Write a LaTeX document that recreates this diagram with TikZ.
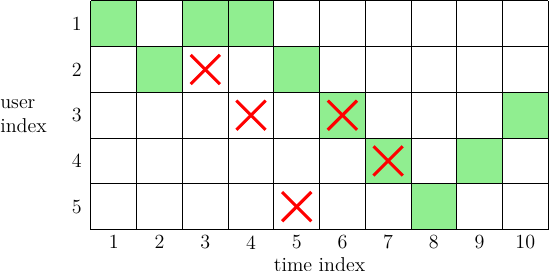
\documentclass[tikz,border=0pt]{standalone}
\usetikzlibrary{calc}
\begin{document}
\begin{tikzpicture}[x=1cm,y=1cm,
  lbl/.style={font=\fontsize{12.5}{15}\selectfont, inner sep=0pt},
  cross/.style={draw=red, line width=1.9pt}]
\definecolor{lgreen}{HTML}{90EE90}
\useasboundingbox (-1.99,-5.90) rectangle (10.04,0.02);
% green cells (col,row)
\foreach \c/\r in {1/1,3/1,4/1,2/2,5/2,6/3,10/3,7/4,9/4,8/5}{
  \fill[lgreen] (\c-1,-\r+1) rectangle (\c,-\r);
}
\draw[line width=0.6pt] (0,0) grid[step=1] (10,-5);
% crosses
\foreach \c/\r in {3/2,4/3,6/3,7/4,5/5}{
  \coordinate (x\c\r) at (\c-0.5,-\r+0.5);
  \draw[cross] ($(x\c\r)+(-0.32,-0.32)$) -- ($(x\c\r)+(0.32,0.32)$);
  \draw[cross] ($(x\c\r)+(-0.32,0.32)$) -- ($(x\c\r)+(0.32,-0.32)$);
}
\foreach \r in {1,...,5}{
  \node[lbl] (r\r) at (-0.31,-\r+0.5) {\r};
}
\foreach \c in {1,...,10}{
  \node[lbl] (c\c) at (\c-0.5,-5.28) {\c};
}
\node[lbl] (tx) at (5,-5.76) {time index};
\node[lbl, anchor=west, align=left] (ux) at (-1.99,-2.52) {user\\index};
\end{tikzpicture}
\end{document}
